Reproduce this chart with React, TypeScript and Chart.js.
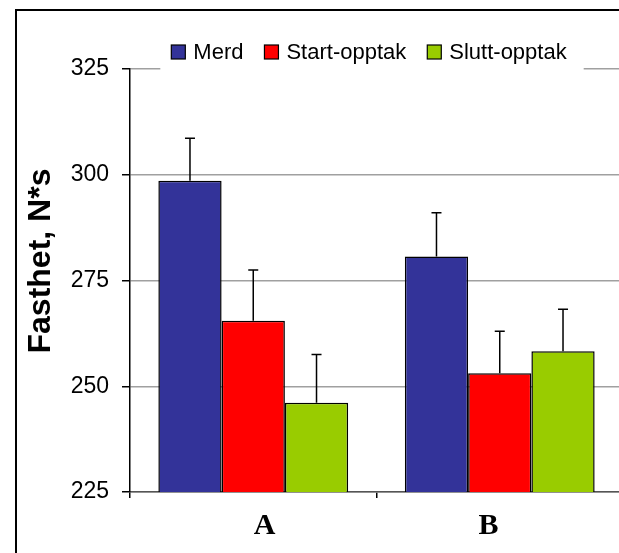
import React, { useEffect, useRef } from "react";
import { Chart, registerables } from "chart.js";

Chart.register(...registerables);

const categories = ["A", "B"];
const seriesNames = ["Merd", "Start-opptak", "Slutt-opptak"];
const merd = [298.6, 280.7];
const startOpptak = [265.5, 253.1];
const sluttOpptak = [246.1, 258.3];
const merdErr = [10.0, 10.3];
const startErr = [12.0, 9.9];
const sluttErr = [11.4, 9.9];
const yTicks = [225, 250, 275, 300, 325];
const yTitle = "Fasthet, N*s";

const colors = ["#333399", "#FF0000", "#99CC00"];
const values = [merd, startOpptak, sluttOpptak];
const errors = [merdErr, startErr, sluttErr];

const W = 640;
const H = 570;

const framePlugin = {
  id: "frame",
  beforeDraw(chart: any) {
    const ctx = chart.ctx;
    ctx.save();
    ctx.fillStyle = "#ffffff";
    ctx.fillRect(0, 0, chart.width, chart.height);
    ctx.strokeStyle = "#000000";
    ctx.lineWidth = 2;
    ctx.strokeRect(16, 10, 1000, 1000);
    ctx.restore();
  },
};

const errorBarPlugin = {
  id: "errorBars",
  afterDatasetsDraw(chart: any) {
    const ctx = chart.ctx;
    const yScale = chart.scales.y;
    ctx.save();
    ctx.strokeStyle = "#000000";
    ctx.lineWidth = 1.5;
    chart.data.datasets.forEach((ds: any, di: number) => {
      const meta = chart.getDatasetMeta(di);
      meta.data.forEach((bar: any, i: number) => {
        const v = ds.data[i];
        const e = errors[di][i];
        const yTop = yScale.getPixelForValue(v + e);
        const yBar = yScale.getPixelForValue(v);
        ctx.beginPath();
        ctx.moveTo(bar.x, yBar);
        ctx.lineTo(bar.x, yTop);
        ctx.moveTo(bar.x - 5, yTop);
        ctx.lineTo(bar.x + 5, yTop);
        ctx.stroke();
      });
    });
    ctx.restore();
  },
};

const yTitlePlugin = {
  id: "yTitle",
  afterDraw(chart: any) {
    const ctx = chart.ctx;
    ctx.save();
    ctx.translate(41, 261);
    ctx.rotate(-Math.PI / 2);
    ctx.font = "bold 32px 'Liberation Sans', Arial, sans-serif";
    ctx.fillStyle = "#000000";
    ctx.textAlign = "center";
    ctx.textBaseline = "middle";
    ctx.fillText(yTitle, 0, 0);
    ctx.restore();
  },
};

const legendPlugin = {
  id: "customLegend",
  afterDraw(chart: any) {
    const ctx = chart.ctx;
    ctx.save();
    ctx.font = "22px 'Liberation Sans', Arial, sans-serif";
    const sq = 14;
    const gapText = 8;
    const gapItem = 21;
    const widths = seriesNames.map((n) => ctx.measureText(n).width);
    const total =
      widths.reduce((a, b) => a + b, 0) +
      seriesNames.length * (sq + gapText) +
      (seriesNames.length - 1) * gapItem;
    const cx = 369;
    const cy = 52;
    let x = cx - total / 2;
    ctx.fillStyle = "#ffffff";
    ctx.fillRect(x - 11, cy - 18, total + 28, 36);
    ctx.textBaseline = "middle";
    seriesNames.forEach((n, i) => {
      ctx.fillStyle = colors[i];
      ctx.fillRect(x, cy - sq / 2, sq, sq);
      ctx.strokeStyle = "#000000";
      ctx.lineWidth = 1.2;
      ctx.strokeRect(x, cy - sq / 2, sq, sq);
      ctx.fillStyle = "#000000";
      ctx.fillText(n, x + sq + gapText, cy + 1);
      x += sq + gapText + widths[i] + gapItem;
    });
    ctx.restore();
  },
};

export default function App() {
  const ref = useRef<HTMLCanvasElement>(null);
  useEffect(() => {
    if (!ref.current) return;
    const chart = new Chart(ref.current, {
      type: "bar",
      data: {
        labels: categories,
        datasets: seriesNames.map((name, i) => ({
          label: name,
          data: values[i],
          backgroundColor: colors[i],
          borderColor: "#000000",
          borderWidth: 1.5,
          categoryPercentage: 0.77,
          barPercentage: 1.0,
        })),
      },
      options: {
        responsive: false,
        animation: false,
        devicePixelRatio: 1,
        layout: { padding: { left: 0, top: 69, right: W - 623, bottom: 0 } },
        plugins: {
          legend: { display: false },
          tooltip: { enabled: false },
          title: { display: false },
        },
        scales: {
          x: {
            grid: {
              display: true,
              drawOnChartArea: false,
              offset: true,
              tickLength: 6,
              tickColor: "#000000",
              lineWidth: 1.5,
            },
            border: { display: true, color: "#555555", width: 1.5 },
            ticks: {
              color: "#000000",
              padding: 10,
              font: { family: "'Liberation Serif', 'Times New Roman', serif", size: 30, weight: "bold" },
              callback(value: any, index: number) {
                const lbl = categories[index];
                return index === 0 ? "   " + lbl : lbl + "   ";
              },
            },
            afterFit(scale: any) {
              scale.height = H - 492;
            },
          },
          y: {
            min: 225,
            max: 325,
            afterBuildTicks(scale: any) {
              scale.ticks = yTicks.map((v) => ({ value: v }));
            },
            grid: {
              color: "#a0a0a0",
              lineWidth: 1.5,
              tickLength: 8,
              tickColor: "#000000",
            },
            border: { display: true, color: "#000000", width: 1.5 },
            ticks: {
              color: "#000000",
              padding: 13,
              font: { family: "'Liberation Sans', Arial, sans-serif", size: 23 },
            },
            afterFit(scale: any) {
              scale.width = 130;
            },
          },
        },
      },
      plugins: [framePlugin, errorBarPlugin, yTitlePlugin, legendPlugin],
    } as any);
    return () => chart.destroy();
  }, []);
  return (
    <div
      style={{
        position: "fixed",
        left: 0,
        top: 0,
        width: 619,
        height: 553,
        overflow: "hidden",
        background: "#ffffff",
      }}
    >
      <canvas ref={ref} width={W} height={H} style={{ display: "block", width: W, height: H }} />
    </div>
  );
}
